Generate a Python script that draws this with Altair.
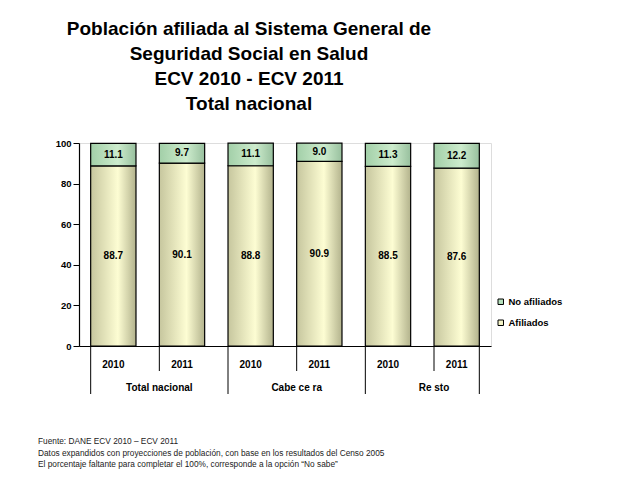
import altair as alt
import pandas as pd

grupos = ["Total nacional", "Total nacional", "Cabecera", "Cabecera", "Resto", "Resto"]
grupos_txt = ["Total nacional", "Total nacional", "Cabe ce ra", "Cabe ce ra", "Re sto", "Re sto"]
anios = ["2010", "2011", "2010", "2011", "2010", "2011"]
afiliados = [88.7, 90.1, 88.8, 90.9, 88.5, 87.6]
no_afiliados = [11.1, 9.7, 11.1, 9.0, 11.3, 12.2]
series = ["No afiliados", " Afiliados"]
notas = [
    "Fuente: DANE ECV 2010 – ECV 2011",
    "Datos expandidos con proyecciones de población, con base en los resultados del Censo 2005",
    "El porcentaje faltante para completar el 100%, corresponde a la opción “No sabe”",
]

keys = [f"{g}|{a}" for g, a in zip(grupos, anios)]
df = pd.DataFrame({
    "key": keys, "grupo": grupos_txt, "anio": anios,
    "afil": afiliados, "no": no_afiliados,
})
df["top"] = df["afil"] + df["no"]
df["mid_afil"] = df["afil"] / 2
df["mid_no"] = df["afil"] + df["no"] / 2

W, H = 412, 203
FONT = "Liberation Sans"

xenc = alt.X("key:N", sort=keys, scale=alt.Scale(paddingInner=0.34, paddingOuter=0.17),
             axis=alt.Axis(title=None, labelExpr="split(datum.value, '|')[1]",
                           labelFont=FONT, labelFontWeight="bold", labelFontSize=10,
                           labelColor="black", labelPadding=13, ticks=False,
                           domainColor="black", domainWidth=1.2, labelAngle=0))
yscale = alt.Scale(domain=[0, 100], nice=False)
yax = alt.Axis(title=None, values=[0, 20, 40, 60, 80, 100], grid=False,
               labelFont=FONT, labelFontWeight="bold", labelFontSize=9.5, labelColor="black",
               tickColor="black", tickSize=6, domainColor="black", domainWidth=1.2, labelPadding=2)

grad_y = alt.Gradient(gradient="linear", x1=0, x2=1, y1=0, y2=0, stops=[
    alt.GradientStop(color="#c6c69e", offset=0),
    alt.GradientStop(color="#fdfdd3", offset=0.6),
    alt.GradientStop(color="#b3b38d", offset=1)])
grad_g = alt.Gradient(gradient="linear", x1=0, x2=1, y1=0, y2=0, stops=[
    alt.GradientStop(color="#a2cfa8", offset=0),
    alt.GradientStop(color="#cdeccd", offset=0.6),
    alt.GradientStop(color="#98c09e", offset=1)])

base = alt.Chart(df)
bar_a = base.mark_bar(fill=grad_y, stroke="black", strokeWidth=1.2).encode(
    x=xenc, y=alt.Y("afil:Q", scale=yscale, axis=yax), y2=alt.value(H))
bar_n = base.mark_bar(fill=grad_g, stroke="black", strokeWidth=1.2).encode(
    x=alt.X("key:N", sort=keys), y=alt.Y("top:Q"), y2="afil:Q")
txt_a = base.mark_text(font=FONT, fontWeight="bold", fontSize=10, color="black").encode(
    x=alt.X("key:N", sort=keys), y="mid_afil:Q", text=alt.Text("afil:Q", format=".1f"))
txt_n = base.mark_text(font=FONT, fontWeight="bold", fontSize=10, color="black").encode(
    x=alt.X("key:N", sort=keys), y="mid_no:Q", text=alt.Text("no:Q", format=".1f"))

gdf = df[df["anio"] == "2011"]
grp_txt = alt.Chart(gdf).mark_text(font=FONT, fontWeight="bold", fontSize=10, color="black").encode(
    x=alt.X("key:N", sort=keys, bandPosition=0), y=alt.value(H + 42), text="grupo:N")
short_r = alt.Chart(gdf).mark_rule(color="black", strokeWidth=1).encode(
    x=alt.X("key:N", sort=keys, bandPosition=0), y=alt.value(H), y2=alt.value(H + 25))
sdf = df[df["anio"] == "2010"]
long_r = alt.Chart(sdf).mark_rule(color="black", strokeWidth=1).encode(
    x=alt.X("key:N", sort=keys, bandPosition=0), y=alt.value(H), y2=alt.value(H + 48))
edf = df.iloc[[-1]]
end_r = alt.Chart(edf).mark_rule(color="black", strokeWidth=1).encode(
    x=alt.X("key:N", sort=keys, bandPosition=1), y=alt.value(H), y2=alt.value(H + 48))

ldf = pd.DataFrame({"serie": series})
leg = alt.Chart(ldf).mark_square(opacity=0).encode(
    color=alt.Color("serie:N", sort=series,
                    scale=alt.Scale(domain=series, range=["#b5e0bc", "#f5f5c8"]),
                    legend=alt.Legend(title=None, orient="none", legendX=W + 5, legendY=154,
                                      symbolType="square", symbolSize=30, symbolOpacity=1,
                                      symbolStrokeColor="black", symbolStrokeWidth=1,
                                      labelFont=FONT, labelFontWeight="bold", labelFontSize=9.5,
                                      labelColor="black", rowPadding=10, labelOffset=3)))

ndf = pd.DataFrame({"nota": ["\n".join(notas)]})
notes = alt.Chart(ndf).mark_text(font=FONT, fontSize=8.3, color="#222222", align="left",
                                 baseline="middle", lineBreak="\n", lineHeight=11.5).encode(
    x=alt.value(-41), y=alt.value(H + 96), text="nota:N")

chart = alt.layer(bar_a, bar_n, txt_a, txt_n, grp_txt, short_r, long_r, end_r, leg, notes).properties(
    width=W, height=H,
    title=alt.TitleParams(
        text=["Población afiliada al Sistema General de", "Seguridad Social en Salud",
              "ECV 2010 - ECV 2011", "Total nacional"],
        font=FONT, fontSize=19, fontWeight="bold", color="black", anchor="middle",
        frame="group", lineHeight=25, dx=-36, offset=24),
    padding={"left": 38, "top": 20, "right": 5, "bottom": 5},
).configure_view(stroke=None).configure(background="white")

chart.save("out.html", embed_options={"renderer": "svg", "actions": False})
